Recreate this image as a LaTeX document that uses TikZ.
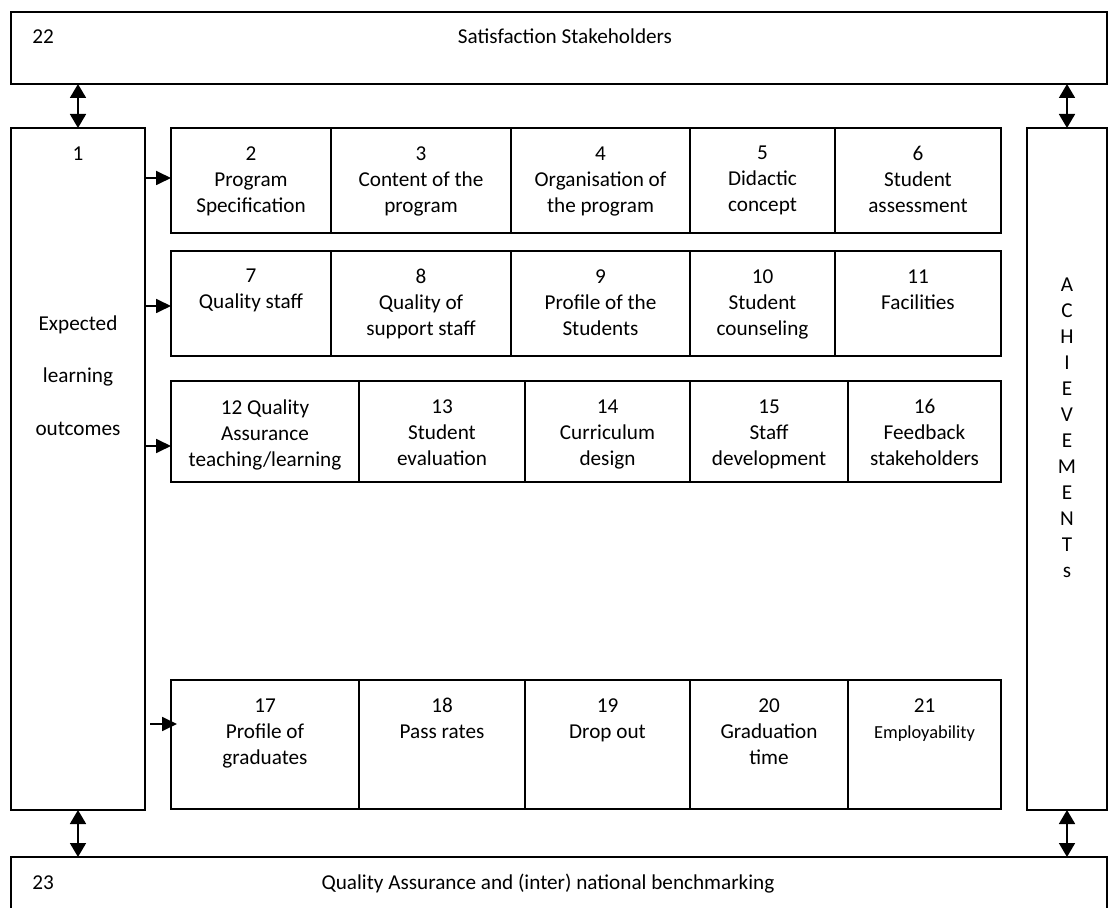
\documentclass[tikz,border=0pt]{standalone}
\usepackage{fontspec}
\setmainfont{Carlito}
\usetikzlibrary{arrows.meta, calc}

\newcommand\smallfont{\fontsize{9.2}{13}\selectfont}

\tikzset{
    box/.style={draw, line width=0.9pt, anchor=north west, inner sep=0pt, outer sep=0pt},
    txt/.style={align=center, anchor=north, inner sep=0pt, font=\fontsize{10.6}{13}\selectfont},
    both/.style={{Triangle[length=7pt,width=8pt]}-{Triangle[length=7pt,width=8pt]}, line width=0.9pt},
    tip/.style={-{Triangle[length=7.5pt,width=7pt]}, line width=0.9pt},
}

\begin{document}
\begin{tikzpicture}[x=0.5pt, y=-0.5pt]
    \clip (0,0) rectangle (1114,908);

    % outer boxes
    \node[box, minimum width=548pt, minimum height=36pt] (stake) at (11,12) {};
    \node[box, minimum width=548pt, minimum height=36pt] (bench) at (11,857) {};
    \node[box, minimum width=67pt, minimum height=341pt] (goal) at (11,128) {};
    \node[box, minimum width=40pt, minimum height=341pt] (achv) at (1027,128) {};

    \node[txt, anchor=base west] (n22) at (32,44) {22};
    \node[txt, anchor=base] (stakename) at (565,44) {Satisfaction Stakeholders};
    \node[txt, anchor=base west] (n23) at (32,889) {23};
    \node[txt, anchor=base] (benchname) at (548,889) {Quality Assurance and (inter) national benchmarking};

    \node[txt] (n1) at (78,146) {1};
    \node[txt, font=\fontsize{10.6}{26.25}\selectfont] (goalname) at (78,315)
        {Expected\\learning\\outcomes};
    \node[txt] (achvname) at (1067,277) {A\\C\\H\\I\\E\\V\\E\\M\\E\\N\\T\\s};

    % the twenty cells
    \foreach \n/\xa/\xb/\ya/\hgt/\lbl in {
        2/171/331/128/52.5/{2\\Program\\Specification},
        3/331/511/128/52.5/{3\\Content of the\\program},
        4/511/690/128/52.5/{4\\Organisation of\\the program},
        5/690/835/128/52.5/{5\\Didactic\\concept},
        6/835/1001/128/52.5/{6\\Student\\assessment},
        7/171/331/251/52.5/{7\\Quality staff},
        8/331/511/251/52.5/{8\\Quality of\\support staff},
        9/511/690/251/52.5/{9\\Profile of the\\Students},
        10/690/835/251/52.5/{10\\Student\\counseling},
        11/835/1001/251/52.5/{11\\Facilities},
        12/171/359/381/50.5/{12 Quality\\Assurance\\teaching/learning},
        13/359/525/381/50.5/{13\\Student\\evaluation},
        14/525/690/381/50.5/{14\\Curriculum\\design},
        15/690/848/381/50.5/{15\\Staff\\development},
        16/848/1001/381/50.5/{16\\Feedback\\stakeholders},
        17/171/359/680/64.5/{17\\Profile of\\graduates},
        18/359/525/680/64.5/{18\\Pass rates},
        19/525/690/680/64.5/{19\\Drop out},
        20/690/848/680/64.5/{20\\Graduation\\time},
        21/848/1001/680/64.5/{21\\\smallfont Employability}}{

        \node[box, minimum width={(\xb-\xa)*0.5pt}, minimum height={\hgt*1pt}]
            (c\n) at (\xa,\ya) {};
        \node[txt, yshift=-9pt] (t\n) at (c\n.north) {\lbl};
    }

    % arrows
    \draw[both] (goal.north) -- (goal.north |- stake.south);
    \draw[both] (achv.north) -- (achv.north |- stake.south);
    \draw[both] (goal.south) -- (goal.south |- bench.north);
    \draw[both] (achv.south) -- (achv.south |- bench.north);

    \draw[tip] (goal.east |- 0,178) -- (c2.west |- 0,178);
    \draw[tip] (goal.east |- 0,306) -- (c7.west |- 0,306);
    \draw[tip] (goal.east |- 0,446) -- (c12.west |- 0,446);
    \coordinate (g4) at (goal.east |- 0,724);
    \coordinate (c4) at (c17.west |- 0,724);
    \draw[tip] ($(g4)+(5,0)$) -- ($(c4)+(6,0)$);
\end{tikzpicture}
\end{document}
